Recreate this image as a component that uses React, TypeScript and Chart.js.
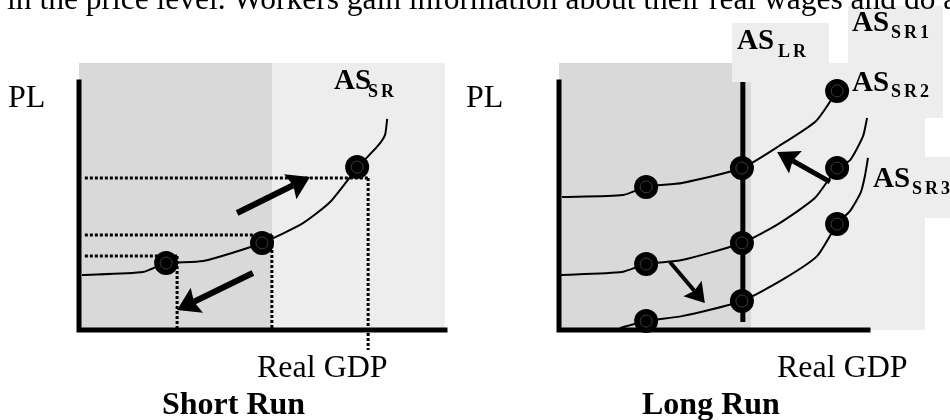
import React, { useEffect, useRef } from 'react';
import { Chart, registerables } from 'chart.js';
Chart.register(...registerables);

// ---------- Short run panel (x: Real GDP 0-100, y: PL 0-100) ----------
const srCurveX = [0.8, 17.5, 23.8, 33.9, 50.0, 61.2, 68.6, 76.2, 81.4, 83.6, 84.2];
const srCurveY = [22.2, 23.4, 27.0, 27.8, 35.1, 43.1, 51.6, 65.7, 73.8, 78.6, 85.1];
const srPointsX = [23.8, 50.0, 76.0];
const srPointsY = [27.0, 35.1, 65.7];
const srGuideX = [26.8, 52.7, 79.0];
const srGuideY = [29.8, 38.3, 61.3];
const srGuideBottom = [0, 0, -8.1];
const srGuideLeft = 1.6;
const srArrowTail = [[43.2, 47.2], [47.5, 23.0]];
const srArrowTip = [[63.1, 61.7], [26.8, 8.1]];

// ---------- Long run panel ----------
const lrCurve1X = [1.0, 20.7, 28.2, 39.8, 59.2, 71.2, 83.2, 90.0];
const lrCurve1Y = [53.6, 54.4, 57.7, 59.3, 65.3, 74.2, 84.3, 96.4];
const lrCurve2X = [0.3, 20.4, 28.2, 39.8, 59.2, 70.9, 82.8, 90.0, 94.2, 98.4, 99.7];
const lrCurve2Y = [22.2, 23.4, 26.6, 28.2, 35.1, 42.7, 53.2, 65.3, 68.5, 78.2, 85.5];
const lrCurve3X = [19.7, 28.2, 39.8, 59.2, 72.2, 83.5, 90.0, 94.2, 97.7, 99.0, 100];
const lrCurve3Y = [0.8, 3.6, 5.6, 11.7, 20.2, 29.8, 42.7, 48.0, 55.6, 62.1, 69.4];
const lrPointsX = [28.2, 59.2, 90.0];
const lrPoints1Y = [57.7, 65.3, 96.4];
const lrPoints2Y = [26.6, 35.1, 65.3];
const lrPoints3Y = [3.6, 11.7, 42.7];
const lrLongRunX = 59.5;
const lrLongRunBottom = 3.2;
const lrArrowTail = [[87.7, 59.7], [35.9, 27.4]];
const lrArrowTip = [[70.6, 71.8], [47.2, 10.9]];

const FONT = '"Liberation Serif", "Times New Roman", serif';

const zip = (xs: number[], ys: number[]) => xs.map((x, i) => ({ x, y: ys[i] }));

const arrowPlugin = {
  id: 'arrowHeads',
  afterDatasetsDraw(chart: any) {
    const ctx = chart.ctx;
    chart.data.datasets.forEach((ds: any, i: number) => {
      if (!ds.arrow) return;
      const pts = chart.getDatasetMeta(i).data;
      const a = pts[0], b = pts[1];
      const ang = Math.atan2(b.y - a.y, b.x - a.x);
      const c = Math.cos(ang), s = Math.sin(ang);
      const { shaft, len, half } = ds.arrow;
      ctx.save();
      ctx.fillStyle = '#000';
      ctx.strokeStyle = '#000';
      ctx.lineWidth = shaft;
      ctx.lineCap = 'butt';
      ctx.beginPath();
      ctx.moveTo(a.x, a.y);
      ctx.lineTo(b.x - c * len * 0.85, b.y - s * len * 0.85);
      ctx.stroke();
      ctx.beginPath();
      ctx.moveTo(b.x, b.y);
      ctx.lineTo(b.x - c * len - s * half, b.y - s * len + c * half);
      ctx.lineTo(b.x - c * len * 0.85, b.y - s * len * 0.85);
      ctx.lineTo(b.x - c * len + s * half, b.y - s * len - c * half);
      ctx.closePath();
      ctx.fill();
      ctx.restore();
    });
  },
};

const lineDs = (data: any[], width: number, extra: any = {}) => ({
  data,
  showLine: true,
  borderColor: '#000',
  borderWidth: width,
  pointRadius: 0,
  fill: false,
  clip: false,
  ...extra,
});

const markerDs = (data: any[]) => [
  {
    data,
    showLine: false,
    pointRadius: 6,
    pointBackgroundColor: 'rgba(0,0,0,0)',
    pointBorderColor: '#3c3c3c',
    pointBorderWidth: 1,
    clip: false,
  },
  {
    data,
    showLine: false,
    pointRadius: 12,
    pointBackgroundColor: '#000',
    pointBorderWidth: 0,
    clip: false,
  },
];

const arrowDs = (tail: number[], tip: number[], shaft: number, len: number, half: number) => ({
  data: [{ x: tail[0], y: tail[1] }, { x: tip[0], y: tip[1] }],
  showLine: false,
  pointRadius: 0,
  clip: false,
  arrow: { shaft, len, half },
});

const baseOptions = (padding: any) => ({
  animation: false,
  responsive: false,
  maintainAspectRatio: false,
  events: [],
  layout: { padding },
  scales: {
    x: { type: 'linear', min: 0, max: 100, display: false },
    y: { type: 'linear', min: 0, max: 100, display: false },
  },
  plugins: { legend: { display: false }, tooltip: { enabled: false } },
});

function shortRunConfig(): any {
  const datasets: any[] = [];
  datasets.push(...markerDs(zip(srPointsX, srPointsY)));
  datasets.push(lineDs(zip(srCurveX, srCurveY), 2, { tension: 0.2 }));
  srGuideX.forEach((gx, i) => {
    const dot = { borderDash: [3, 2] };
    datasets.push(lineDs([{ x: srGuideLeft, y: srGuideY[i] }, { x: gx, y: srGuideY[i] }], 3, dot));
    datasets.push(lineDs([{ x: gx, y: srGuideY[i] }, { x: gx, y: srGuideBottom[i] }], 3, dot));
  });
  datasets.push(lineDs([{ x: 0, y: 100 }, { x: 0, y: 0 }, { x: 100, y: 0 }], 5, { borderCapStyle: 'square' }));
  srArrowTail.forEach((t, i) => datasets.push(arrowDs(t, srArrowTip[i], 6, 22, 14)));
  return {
    type: 'scatter',
    data: { datasets },
    options: baseOptions({ left: 79, right: 30, top: 82, bottom: 90 }),
    plugins: [arrowPlugin],
  };
}

function longRunConfig(): any {
  const datasets: any[] = [];
  datasets.push(...markerDs(zip(lrPointsX, lrPoints1Y)));
  datasets.push(...markerDs(zip(lrPointsX, lrPoints2Y)));
  datasets.push(...markerDs(zip(lrPointsX, lrPoints3Y)));
  datasets.push(lineDs(zip(lrCurve1X, lrCurve1Y), 2, { tension: 0.2 }));
  datasets.push(lineDs(zip(lrCurve2X, lrCurve2Y), 2, { tension: 0.2 }));
  datasets.push(lineDs(zip(lrCurve3X, lrCurve3Y), 2, { tension: 0.2 }));
  datasets.push(lineDs([{ x: lrLongRunX, y: 100 }, { x: lrLongRunX, y: lrLongRunBottom }], 5));
  datasets.push(lineDs([{ x: 0, y: 100 }, { x: 0, y: 0 }, { x: 100, y: 0 }], 5, { borderCapStyle: 'square' }));
  datasets.push(arrowDs(lrArrowTail[0], lrArrowTip[0], 5, 21, 13));
  datasets.push(arrowDs(lrArrowTail[1], lrArrowTip[1], 4, 19, 12));
  return {
    type: 'scatter',
    data: { datasets },
    options: baseOptions({ left: 84, right: 82, top: 82, bottom: 90 }),
    plugins: [arrowPlugin],
  };
}

function ChartCanvas({ left, config }: { left: number; config: () => any }) {
  const ref = useRef<HTMLCanvasElement>(null);
  useEffect(() => {
    const chart = new Chart(ref.current as HTMLCanvasElement, config());
    return () => chart.destroy();
  }, []);
  return (
    <canvas
      ref={ref}
      width={475}
      height={420}
      style={{ position: 'absolute', left, top: 0, width: 475, height: 420 }}
    />
  );
}

function Txt({ x, base, size, bold, spacing, children }: any) {
  return (
    <div
      style={{
        position: 'absolute',
        left: x,
        top: base - 0.8375 * size,
        fontSize: size,
        lineHeight: size + 'px',
        fontWeight: bold ? 'bold' : 'normal',
        fontFamily: FONT,
        whiteSpace: 'nowrap',
        letterSpacing: spacing || 0,
        color: '#000',
      }}
    >
      {children}
    </div>
  );
}

function Box({ x1, y1, x2, y2, color }: any) {
  return (
    <div style={{ position: 'absolute', left: x1, top: y1, width: x2 - x1, height: y2 - y1, background: color }} />
  );
}

const DARK = '#d9d9d9';
const LIGHT = '#ededed';

function ASLabel({ x, base, sub, subX, subBase }: any) {
  return (
    <>
      <Txt x={x} base={base} size={29} bold>AS</Txt>
      <Txt x={subX} base={subBase} size={18} bold spacing={3}>{sub}</Txt>
    </>
  );
}

export default function App() {
  return (
    <div
      style={{
        position: 'fixed',
        left: 0,
        top: 0,
        width: 950,
        height: 420,
        background: '#fff',
        overflow: 'hidden',
      }}
    >
      {/* shaded panels */}
      <Box x1={79} y1={63} x2={272} y2={330} color={DARK} />
      <Box x1={272} y1={63} x2={445} y2={330} color={LIGHT} />
      <Box x1={559} y1={63} x2={751} y2={330} color={DARK} />
      <Box x1={751} y1={63} x2={925} y2={330} color={LIGHT} />
      <Box x1={732} y1={23} x2={829} y2={82} color={LIGHT} />
      <Box x1={848} y1={6} x2={943} y2={118} color={LIGHT} />
      <Box x1={900} y1={157} x2={950} y2={218} color={LIGHT} />

      <ChartCanvas left={0} config={shortRunConfig} />
      <ChartCanvas left={475} config={longRunConfig} />

      <Txt x={7} base={9} size={31.5}>
        in the price level. Workers gain information about their real wages and do a
      </Txt>

      <Txt x={8} base={107} size={32}>PL</Txt>
      <Txt x={466} base={107} size={32}>PL</Txt>
      <Txt x={257} base={377} size={32}>Real GDP</Txt>
      <Txt x={777} base={377} size={32}>Real GDP</Txt>
      <Txt x={162} base={414} size={32} bold>Short Run</Txt>
      <Txt x={642} base={414} size={32} bold>Long Run</Txt>

      <ASLabel x={334} base={89} sub="SR" subX={368} subBase={97} />
      <ASLabel x={737} base={49} sub="LR" subX={778} subBase={57} />
      <ASLabel x={852} base={31} sub="SR1" subX={891} subBase={38} />
      <ASLabel x={852} base={91} sub="SR2" subX={891} subBase={97} />
      <ASLabel x={873} base={187} sub="SR3" subX={912} subBase={194} />
    </div>
  );
}
